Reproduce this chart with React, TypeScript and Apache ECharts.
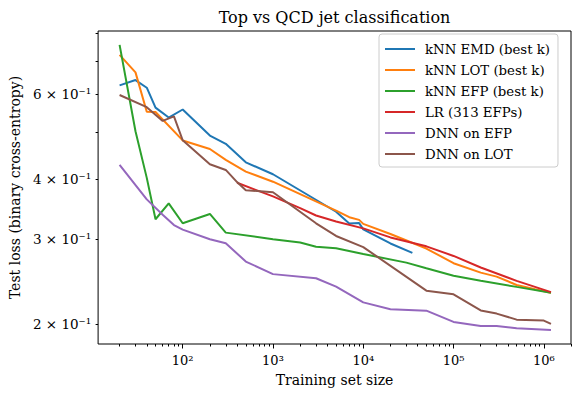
import React, { useEffect, useRef } from "react";
import * as echarts from "echarts";

const FONT = "DejaVu Serif";

const nEMD = [20, 30, 40, 50, 70, 100, 200, 300, 500, 1000, 5000, 7000, 9000, 10000, 20000, 35000];
const lossEMD = [0.625, 0.641, 0.618, 0.562, 0.536, 0.557, 0.492, 0.473, 0.433, 0.409, 0.342, 0.3235, 0.324, 0.3144, 0.294, 0.281];

const nLOT = [20, 30, 40, 50, 100, 200, 300, 500, 1000, 5000, 7000, 9000, 10000, 20000, 50000, 100000, 200000, 300000, 500000, 800000, 1200000];
const lossLOT = [0.723, 0.665, 0.551, 0.5505, 0.4806, 0.4614, 0.438, 0.4141, 0.3947, 0.344, 0.3332, 0.329, 0.3228, 0.3076, 0.287, 0.2676, 0.2558, 0.251, 0.2412, 0.2363, 0.2325];

const nEFP = [20, 30, 40, 50, 70, 100, 200, 300, 1000, 2000, 3000, 5000, 10000, 30000, 50000, 100000, 200000, 500000, 1200000];
const lossEFP = [0.758, 0.502, 0.402, 0.33, 0.356, 0.3237, 0.3384, 0.3096, 0.3, 0.2954, 0.2895, 0.2873, 0.2796, 0.2683, 0.2612, 0.252, 0.2461, 0.239, 0.2325];

const nLR = [400, 1000, 2000, 3000, 5000, 10000, 20000, 50000, 100000, 200000, 500000, 1200000];
const lossLR = [0.3927, 0.368, 0.348, 0.336, 0.3266, 0.3159, 0.3026, 0.29, 0.277, 0.2622, 0.2459, 0.2331];

const nDNNEFP = [20, 40, 60, 80, 100, 200, 300, 500, 1000, 3000, 5000, 10000, 20000, 50000, 100000, 200000, 300000, 500000, 1200000];
const lossDNNEFP = [0.4276, 0.3628, 0.3372, 0.321, 0.314, 0.3, 0.2943, 0.2697, 0.254, 0.249, 0.2393, 0.222, 0.2149, 0.2134, 0.2022, 0.1984, 0.1984, 0.1962, 0.1946];

const nDNNLOT = [20, 40, 60, 80, 100, 200, 300, 400, 500, 1000, 3000, 5000, 10000, 50000, 100000, 200000, 300000, 500000, 1000000, 1200000];
const lossDNNLOT = [0.597, 0.5632, 0.5275, 0.539, 0.481, 0.429, 0.4175, 0.394, 0.379, 0.3753, 0.3237, 0.3047, 0.289, 0.2347, 0.2307, 0.2136, 0.2104, 0.2044, 0.2035, 0.2003];

const seriesNames = [
  "kNN EMD (best k)",
  "kNN LOT (best k)",
  "kNN EFP (best k)",
  "LR (313 EFPs)",
  "DNN on EFP",
  "DNN on LOT",
];
const seriesColors = ["#1f77b4", "#ff7f0e", "#2ca02c", "#d62728", "#9467bd", "#8c564b"];
const seriesN = [nEMD, nLOT, nEFP, nLR, nDNNEFP, nDNNLOT];
const seriesLoss = [lossEMD, lossLOT, lossEFP, lossLR, lossDNNEFP, lossDNNLOT];

const xMin = 11.56;
const xMax = 2000000;
const yMin = 0.182;
const yMax = 0.81;

const xMajorTicks = [100, 1000, 10000, 100000, 1000000];
const xMinorTicks = [20, 30, 40, 50, 60, 70, 80, 90, 200, 300, 400, 500, 600, 700, 800, 900, 2000, 3000, 4000, 5000, 6000, 7000, 8000, 9000, 20000, 30000, 40000, 50000, 60000, 70000, 80000, 90000, 200000, 300000, 400000, 500000, 600000, 700000, 800000, 900000, 2000000];
const yTicks = [0.2, 0.3, 0.4, 0.5, 0.6, 0.7, 0.8];
const yLabelTicks = [0.2, 0.3, 0.4, 0.6];

const sup: Record<string, string> = { "0": "⁰", "1": "¹", "2": "²", "3": "³", "4": "⁴", "5": "⁵", "6": "⁶", "7": "⁷", "8": "⁸", "9": "⁹", "-": "⁻" };
const toSup = (s: string) => s.split("").map((c) => sup[c] || c).join("");

const GRID = { left: 98, top: 31, width: 473, height: 313 };

export default function App() {
  const ref = useRef<HTMLDivElement>(null);
  useEffect(() => {
    if (!ref.current) return;
    const chart = echarts.init(ref.current, null, { renderer: "svg" });
    const lg = Math.log10;
    const hiddenAxis = {
      axisLine: { show: false },
      axisTick: { show: false },
      axisLabel: { show: false },
      splitLine: { show: false },
    };
    const tickStyle = { color: "#000", width: 1 };
    const option: any = {
      animation: false,
      backgroundColor: "#fff",
      textStyle: { fontFamily: FONT },
      grid: {
        ...GRID,
        show: true,
        borderColor: "#000",
        borderWidth: 1,
        backgroundColor: "transparent",
        containLabel: false,
      },
      graphic: [
        {
          type: "text",
          x: GRID.left + GRID.width / 2,
          y: 17,
          style: {
            text: "Top vs QCD jet classification",
            fontFamily: FONT,
            fontSize: 16,
            fill: "#000",
            textAlign: "center",
            textVerticalAlign: "middle",
          },
        },
      ],
      legend: {
        orient: "vertical",
        left: 379,
        top: 34,
        padding: [8, 8, 6, 6],
        itemWidth: 30,
        itemHeight: 14,
        itemGap: 7,
        icon: "path://M0,0H30V2H0Z",
        backgroundColor: "rgba(255,255,255,0.8)",
        borderColor: "#cccccc",
        borderWidth: 1,
        borderRadius: 3,
        data: seriesNames,
        textStyle: { fontFamily: FONT, fontSize: 13.3, color: "#000", lineHeight: 14, padding: [0, 0, 0, 5] },
      },
      xAxis: [
        { type: "log", min: xMin, max: xMax, position: "bottom", ...hiddenAxis },
        {
          type: "value",
          min: lg(xMin),
          max: lg(xMax),
          position: "bottom",
          axisLine: { show: false },
          splitLine: { show: false },
          axisTick: { show: true, length: 4.5, lineStyle: tickStyle, customValues: xMajorTicks.map(lg) },
          axisLabel: {
            show: true,
            margin: 10,
            fontFamily: FONT,
            fontSize: 13,
            color: "#000",
            customValues: xMajorTicks.map(lg),
            formatter: (v: number) => "10" + toSup(String(Math.round(v))),
          },
          name: "Training set size",
          nameLocation: "middle",
          nameGap: 29,
          nameTextStyle: { fontFamily: FONT, fontSize: 14, color: "#000" },
        },
        {
          type: "value",
          min: lg(xMin),
          max: lg(xMax),
          position: "bottom",
          axisLine: { show: false },
          splitLine: { show: false },
          axisTick: { show: true, length: 2.5, lineStyle: tickStyle, customValues: xMinorTicks.map(lg) },
          axisLabel: { show: false },
        },
      ],
      yAxis: [
        { type: "log", min: yMin, max: yMax, position: "left", ...hiddenAxis },
        {
          type: "value",
          min: lg(yMin),
          max: lg(yMax),
          position: "left",
          axisLine: { show: false },
          splitLine: { show: false },
          axisTick: { show: true, length: 2.5, lineStyle: tickStyle, customValues: yTicks.map(lg) },
          axisLabel: {
            show: true,
            margin: 7,
            fontFamily: FONT,
            fontSize: 13.5,
            color: "#000",
            customValues: yLabelTicks.map(lg),
            formatter: (v: number) => Math.round(Math.pow(10, v) * 10) + " × 10⁻¹",
          },
          name: "Test loss (binary cross-entropy)",
          nameLocation: "middle",
          nameGap: 71,
          nameTextStyle: { fontFamily: FONT, fontSize: 14, color: "#000" },
        },
      ],
      series: seriesNames.map((name, i) => ({
        name,
        type: "line",
        xAxisIndex: 0,
        yAxisIndex: 0,
        symbol: "none",
        showSymbol: false,
        color: seriesColors[i],
        lineStyle: { color: seriesColors[i], width: 2 },
        data: seriesN[i].map((n, j) => [n, seriesLoss[i][j]]),
      })),
    };
    chart.setOption(option);
    return () => chart.dispose();
  }, []);
  return (
    <div
      ref={ref}
      style={{ position: "fixed", left: 0, top: 0, width: 582, height: 399 }}
    />
  );
}
